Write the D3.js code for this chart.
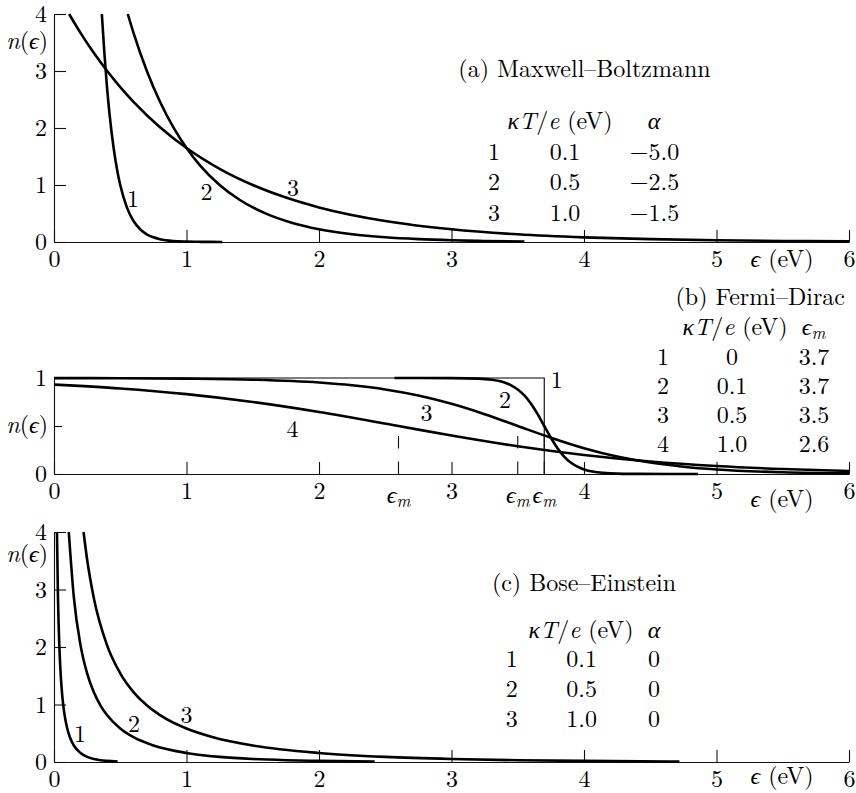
<!DOCTYPE html>
<html>
<head>
<meta charset="utf-8">
<script src="https://cdn.jsdelivr.net/npm/d3@7"></script>
<style>
  body { margin: 0; background: #fff; }
</style>
</head>
<body>
<svg id="chart" width="856" height="793"></svg>
<script>
// ---------- data: occupation number n(ε) against energy ε (eV) ----------
const energyTicks = [0, 1, 2, 3, 4, 5, 6];
const tallTicks = [0, 1, 2, 3, 4];       // panels (a) and (c)
const fdTicks = [0, 0.5, 1];              // panel (b)

// (a) Maxwell–Boltzmann
const mbCurve1 = [[0.361,4.0],[0.38,3.320],[0.40,2.718],[0.42,2.226],[0.45,1.649],[0.48,1.221],[0.50,1.0],[0.55,0.607],[0.60,0.368],[0.65,0.223],[0.70,0.135],[0.75,0.082],[0.80,0.050],[0.90,0.018],[1.00,0.007],[1.10,0.003],[1.27,0.001]];
const mbCurve2 = [[0.557,4.0],[0.6,3.669],[0.7,3.004],[0.8,2.460],[0.9,2.014],[1.0,1.649],[1.1,1.350],[1.25,1.0],[1.4,0.741],[1.6,0.497],[1.8,0.333],[2.0,0.223],[2.25,0.135],[2.5,0.082],[2.75,0.050],[3.0,0.030],[3.25,0.018],[3.55,0.010]];
const mbCurve3 = [[0.114,4.0],[0.2,3.669],[0.3,3.320],[0.4,3.004],[0.5,2.718],[0.6,2.460],[0.8,2.014],[1.0,1.649],[1.25,1.284],[1.5,1.0],[1.75,0.779],[2.0,0.607],[2.5,0.368],[3.0,0.223],[3.5,0.135],[4.0,0.082],[4.5,0.050],[5.0,0.030],[5.5,0.018],[6.0,0.011]];
const mbRows = [["1","0.1","−5.0"],["2","0.5","−2.5"],["3","1.0","−1.5"]];

// (b) Fermi–Dirac
const fdCurve1 = [[0,1],[3.7,1],[3.7,0]];
const fdCurve2 = [[2.57,1.0],[3.0,0.999],[3.2,0.993],[3.3,0.982],[3.4,0.953],[3.45,0.924],[3.5,0.881],[3.55,0.818],[3.6,0.731],[3.65,0.623],[3.7,0.5],[3.75,0.378],[3.8,0.269],[3.85,0.182],[3.9,0.119],[3.95,0.076],[4.0,0.047],[4.1,0.018],[4.2,0.007],[4.4,0.001],[4.86,0.0]];
const fdCurve3 = [[0,0.999],[0.5,0.998],[1.0,0.993],[1.5,0.982],[2.0,0.953],[2.25,0.924],[2.5,0.881],[2.75,0.818],[3.0,0.731],[3.25,0.623],[3.5,0.5],[3.75,0.378],[4.0,0.269],[4.25,0.182],[4.5,0.119],[4.75,0.076],[5.0,0.047],[5.5,0.018],[6.0,0.007]];
const fdCurve4 = [[0,0.931],[0.5,0.891],[1.0,0.832],[1.5,0.750],[2.0,0.646],[2.6,0.5],[3.0,0.401],[3.5,0.289],[4.0,0.198],[4.5,0.130],[5.0,0.083],[5.5,0.052],[6.0,0.032]];
const fdMarks = [2.6, 3.5, 3.7];   // ε_m of the curves
const fdRows = [["1","0","3.7"],["2","0.1","3.7"],["3","0.5","3.5"],["4","1.0","2.6"]];

// (c) Bose–Einstein
const beCurve1 = [[0.0223,4.0],[0.03,2.858],[0.04,2.033],[0.05,1.542],[0.06,1.216],[0.07,0.986],[0.08,0.816],[0.10,0.582],[0.12,0.431],[0.15,0.287],[0.20,0.157],[0.25,0.089],[0.30,0.052],[0.35,0.031],[0.40,0.019],[0.48,0.008]];
const beCurve2 = [[0.1116,4.0],[0.15,2.858],[0.2,2.033],[0.25,1.542],[0.3,1.216],[0.35,0.986],[0.4,0.816],[0.5,0.582],[0.6,0.431],[0.75,0.287],[1.0,0.157],[1.25,0.089],[1.5,0.052],[1.75,0.031],[2.0,0.019],[2.42,0.008]];
const beCurve3 = [[0.223,4.0],[0.25,3.521],[0.3,2.858],[0.4,2.033],[0.5,1.542],[0.6,1.216],[0.7,0.986],[0.8,0.816],[1.0,0.582],[1.2,0.431],[1.5,0.287],[2.0,0.157],[2.5,0.089],[3.0,0.052],[3.5,0.031],[4.0,0.019],[4.72,0.009]];
const beRows = [["1","0.1","0"],["2","0.5","0"],["3","1.0","0"]];

// ---------- layout ----------
const ROMAN = "'Latin Modern Roman', 'Liberation Serif', serif";
const GREEK = "'Liberation Serif', 'DejaVu Serif', serif";
const FS = 24;

const svg = d3.select("#chart").attr("font-family", ROMAN).attr("font-size", FS);
const x = d3.scaleLinear().domain([0, 6]).range([54, 849]);

const panels = [
  { key: "a", y: d3.scaleLinear().domain([0, 4]).range([242, 14]), ticks: tallTicks,
    curves: [ {d: mbCurve1, lab: "1", at: [0.596, 0.62]}, {d: mbCurve2, lab: "2", at: [1.151, 0.74]}, {d: mbCurve3, lab: "3", at: [1.804, 0.80]} ],
    title: { text: "(a) Maxwell–Boltzmann", x: 584.5, y: 77, anchor: "middle" },
    header: { y: 128.5, cols: [560, 654] }, colX: [494, 565, 654.5], rowY: [159.5, 190, 220.5], rows: mbRows,
    lastHead: [{t: "α", g: true}], ylab: 48.5, xlabDy: 0 },
  { key: "b", y: d3.scaleLinear().domain([0, 1]).range([474, 378]), ticks: fdTicks,
    curves: [ {d: fdCurve2, lab: "2", at: [3.404, 0.69]}, {d: fdCurve3, lab: "3", at: [2.811, 0.55]}, {d: fdCurve4, lab: "4", at: [1.80, 0.39]} ],
    title: { text: "(b) Fermi–Dirac", x: 845, y: 305, anchor: "end" },
    header: { y: 335, cols: [735, 813.5] }, colX: [663, 732, 814], rowY: [365, 394, 423, 452], rows: fdRows,
    lastHead: [{t: "ϵ", g: true}, {t: "m", it: true, sub: true}], ylab: null, xlabDy: 8 },
  { key: "c", y: d3.scaleLinear().domain([0, 4]).range([762, 532]), ticks: tallTicks,
    curves: [ {d: beCurve1, lab: "1", at: [0.196, 0.35]}, {d: beCurve2, lab: "2", at: [0.604, 0.53]}, {d: beCurve3, lab: "3", at: [1.00, 0.68]} ],
    title: { text: "(c) Bose–Einstein", x: 584, y: 591, anchor: "middle" },
    header: { y: 638, cols: [581, 654] }, colX: [511.7, 581.7, 654], rowY: [666.7, 696.7, 726.7], rows: beRows,
    lastHead: [{t: "α", g: true}], ylab: 562, xlabDy: -3 }
];

// text helper: plain string, or runs of roman / italic / greek-italic / subscript
function txt(g, xPos, yPos, anchor, content) {
  const t = g.append("text").attr("x", xPos).attr("y", yPos).attr("text-anchor", anchor)
    .attr("font-family", ROMAN).attr("font-size", FS).attr("fill", "#000");
  if (typeof content === "string") { t.text(content); return t; }
  content.forEach(p => {
    const s = t.append("tspan").text(p.t);
    if (p.it || p.g) s.attr("font-style", "italic");
    if (p.g) s.attr("font-family", GREEK);
    if (p.sub) s.attr("font-size", 17).attr("dy", 4);
  });
  return t;
}
const nLabel = [{t: "n", it: true}, {t: "("}, {t: "ϵ", g: true}, {t: ")"}];
const eLabel = [{t: "ϵ", g: true}, {t: " (eV)"}];
const ktLabel = [{t: "κ", g: true}, {t: "T", it: true}, {t: "/"}, {t: "e", it: true}, {t: " (eV)"}];
const emLabel = [{t: "ϵ", g: true}, {t: "m", it: true, sub: true}];

const line = (y) => d3.line().x(d => x(d[0])).y(d => y(d[1])).curve(d3.curveMonotoneX);

panels.forEach(p => {
  const g = svg.append("g").attr("class", "panel-" + p.key);
  const y0 = p.y(0);

  // bottom axis, ticks pointing into the plot
  const xa = g.append("g").attr("transform", `translate(0,${y0})`)
    .call(d3.axisBottom(x).tickValues(energyTicks).tickSizeInner(-12).tickSizeOuter(0).tickFormat(d3.format("d")));
  xa.selectAll("text").attr("y", 25).attr("dy", 0);

  // left axis
  const ya = g.append("g").attr("transform", `translate(${x(0)},0)`)
    .call(d3.axisLeft(p.y).tickValues(p.ticks).tickSizeInner(-12).tickSizeOuter(0)
      .tickFormat(d => d === 0.5 ? "" : d3.format("d")(d)));
  ya.selectAll("text").attr("x", -7);
  if (p.key === "b") ya.selectAll(".tick line").attr("x2", 8);
  [xa, ya].forEach(a => {
    a.attr("font-family", ROMAN).attr("font-size", FS);
    a.selectAll("text").attr("fill", "#000");
    a.selectAll("path, line").attr("stroke", "#111").attr("stroke-width", 1.1);
  });

  // y label n(ϵ)
  const ny = p.ylab !== null ? p.ylab : p.y(0.5) + 7;
  txt(g, 48, ny, "end", nLabel);

  // x label ϵ (eV)
  txt(g, 782, y0 + 25 + p.xlabDy, "middle", eLabel);

  // curves with their number labels
  p.curves.forEach(c => {
    g.append("path").datum(c.d).attr("d", line(p.y))
      .attr("fill", "none").attr("stroke", "#000").attr("stroke-width", 2.6)
      .attr("stroke-linejoin", "round");
    txt(g, x(c.at[0]), p.y(c.at[1]), "middle", c.lab);
  });

  // title
  txt(g, p.title.x, p.title.y, p.title.anchor, p.title.text);

  // parameter table
  txt(g, p.header.cols[0], p.header.y, "middle", ktLabel);
  txt(g, p.header.cols[1], p.header.y, "middle", p.lastHead);
  p.rows.forEach((r, i) => {
    r.forEach((v, j) => txt(g, p.colX[j], p.rowY[i], "middle", v));
  });

  if (p.key === "b") {
    // zero-temperature step (thin)
    g.append("path").datum(fdCurve1).attr("d", d3.line().x(d => x(d[0])).y(d => p.y(d[1])))
      .attr("fill", "none").attr("stroke", "#000").attr("stroke-width", 1.1);
    txt(g, x(3.794), p.y(0.896), "middle", "1");
    // dashed ϵ_m markers and their labels
    fdMarks.forEach(m => {
      g.append("line").attr("x1", x(m)).attr("x2", x(m)).attr("y1", p.y(0)).attr("y2", p.y(0.4))
        .attr("stroke", "#111").attr("stroke-width", 1.1).attr("stroke-dasharray", "12.5,13");
      txt(g, x(m), y0 + 29, "middle", emLabel);
    });
  }
});
</script>
</body>
</html>
